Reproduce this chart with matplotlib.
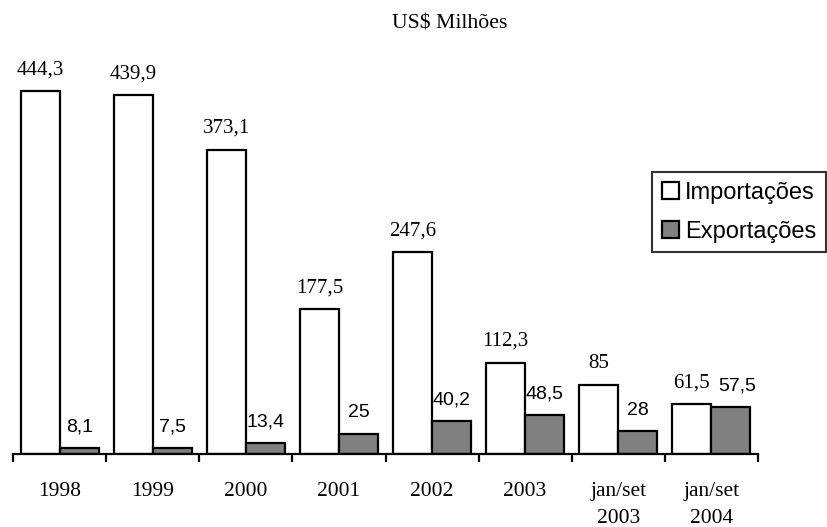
import matplotlib
matplotlib.use("Agg")
import matplotlib.pyplot as plt
import numpy as np
from matplotlib.patches import Patch
from matplotlib.ticker import FixedLocator

categories = ["1998", "1999", "2000", "2001", "2002", "2003", "jan/set\n2003", "jan/set\n2004"]
importacoes = [444.3, 439.9, 373.1, 177.5, 247.6, 112.3, 85, 61.5]
exportacoes = [8.1, 7.5, 13.4, 25, 40.2, 48.5, 28, 57.5]
series_names = ["Importações", "Exportações"]
title = "US$ Milhões"

def fmt(v):
    s = ("%g" % v).replace(".", ",")
    return s

SERIF = "Liberation Serif"
SANS = "Liberation Sans"

fig = plt.figure(figsize=(8.28, 5.27), dpi=100)
W, H = 828, 527
left, right = 13.3 / W, 757.7 / W
bottom = (H - 454.3) / H
top = (H - 46.0) / H
ax = fig.add_axes([left, bottom, right - left, top - bottom])

x = np.arange(len(categories))
bw = 0.42
lw = 1.6
b1 = ax.bar(x - bw / 2, importacoes, bw, color="white", edgecolor="black", linewidth=lw, zorder=2)
b2 = ax.bar(x + bw / 2, exportacoes, bw, color="#808080", edgecolor="black", linewidth=lw, zorder=2)

ax.set_xlim(-0.5, len(categories) - 0.5)
ax.set_ylim(0, 500)

for xi, v in zip(x, importacoes):
    ax.annotate(fmt(v), (xi - bw / 2, v), xytext=(0, 12), textcoords="offset points",
                ha="center", va="baseline", fontsize=15, family=SERIF)
for i, (xi, v) in enumerate(zip(x, exportacoes)):
    dx = 5 if i == len(categories) - 1 else 0
    ax.annotate(fmt(v), (xi + bw / 2, v), xytext=(dx, 12), textcoords="offset points",
                ha="center", va="baseline", fontsize=14, family=SANS)

for s in ["left", "right", "top"]:
    ax.spines[s].set_visible(False)
ax.spines["bottom"].set_linewidth(1.6)
ax.set_yticks([])
ax.set_xticks(x)
ax.set_xticklabels(categories, fontsize=15.5, family=SERIF, linespacing=1.55)
ax.tick_params(axis="x", which="major", length=0, pad=20)
ax.xaxis.set_minor_locator(FixedLocator(np.arange(-0.5, len(categories), 1.0)))
ax.tick_params(axis="x", which="minor", length=6, width=1.6, direction="out")

fig.text(450 / W, (H - 28.3) / H, title, ha="center", va="baseline", fontsize=15.7, family=SERIF)

handles = [Patch(facecolor="white", edgecolor="black", linewidth=1.6),
           Patch(facecolor="#808080", edgecolor="black", linewidth=1.6)]
leg = fig.legend(handles, series_names, loc="upper left",
                 bbox_to_anchor=(652.3 / W, (H - 172.3) / H), borderaxespad=0,
                 prop={"family": SANS, "size": 17}, frameon=True, fancybox=False,
                 edgecolor="black", handlelength=0.75, handleheight=0.75,
                 handletextpad=0.25, labelspacing=0.72, borderpad=0.4)
leg.get_frame().set_linewidth(1.5)

fig.savefig("out.png", dpi=100)
